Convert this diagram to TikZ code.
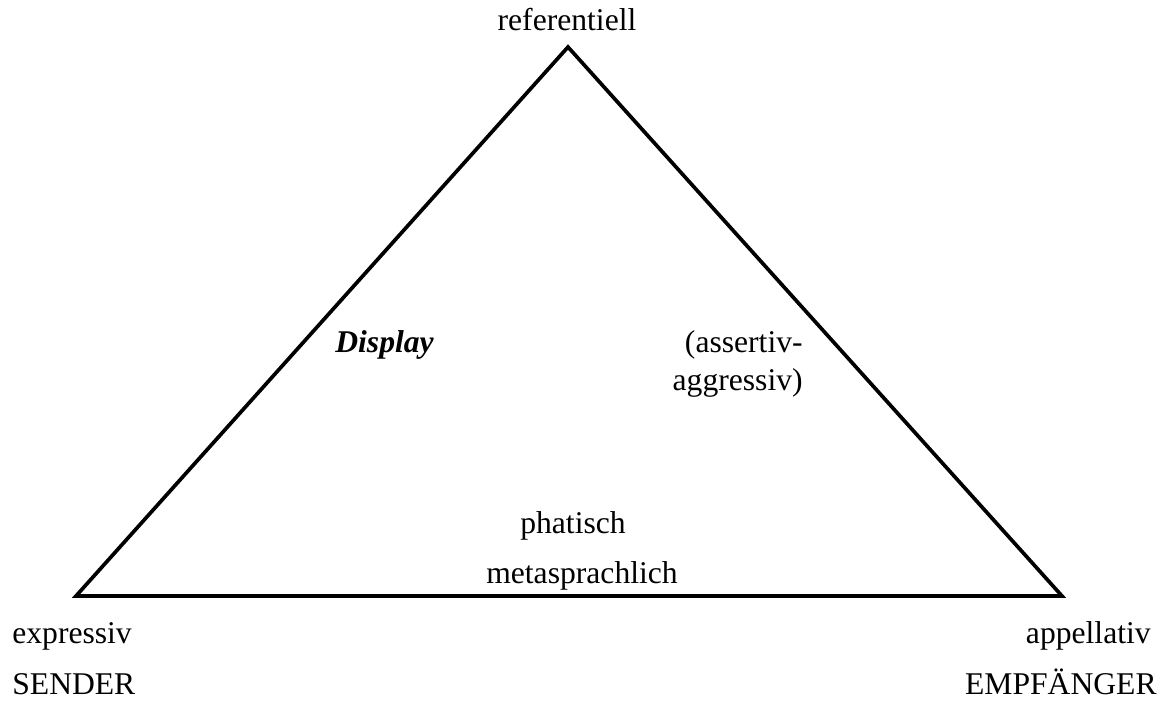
\documentclass[tikz,border=0pt]{standalone}
\usepackage{fontspec}
\setmainfont{Liberation Serif}
\usetikzlibrary{positioning}

\begin{document}
\begin{tikzpicture}[
  x=0.02cm, y=-0.02cm,
  every node/.style={font=\fontsize{18}{22}\selectfont, inner sep=0pt},
  lbl/.style={anchor=base},
  side/.style={line width=2.1pt, line join=miter}
]
\useasboundingbox (0,0) rectangle (1165,702);

% corners of the triangle
\coordinate (top) at (568,47);
\coordinate (left) at (76,596);
\coordinate (right) at (1062,596);

\draw[side] (top) -- (right) -- (left) -- cycle;

% functions at the corners
\node[lbl] (ref) at (567,31) {referentiell};
\node[lbl, anchor=base west] (expr) at (12,643) {expressiv};
\node[lbl, anchor=base west] (sender) at (12,694) {SENDER};
\node[lbl, anchor=base east] (appell) at (1151,643) {appellativ};
\node[lbl, anchor=base east] (empf) at (1157,694) {EMPFÄNGER};

% inside the triangle
\node[lbl, anchor=base west] (display) at (335,352) {\textbf{\textit{Display}}};
\node[lbl, anchor=base east] (assert) at (803,352) {(assertiv-};
\node[lbl, anchor=base east] (aggr) at (803,390) {aggressiv)};
\node[lbl] (phat) at (573,533) {phatisch};
\node[lbl] (meta) at (582,583) {metasprachlich};

\end{tikzpicture}
\end{document}
